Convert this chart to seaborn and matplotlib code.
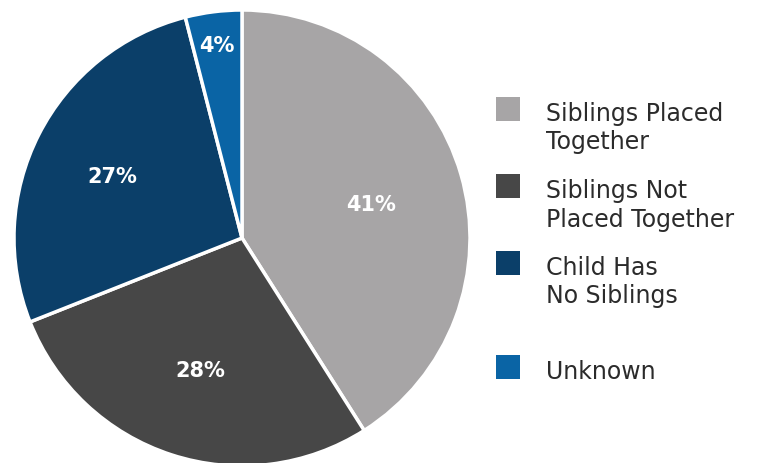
"""
Pie chart of sibling placement status.
"""
import numpy as np
import matplotlib.pyplot as plt
from matplotlib.patches import Rectangle
import seaborn as sns

sns.set_theme(style="white")
plt.rcParams['font.family'] = ['DejaVu Sans']

# Data
categories = ["Siblings Placed\nTogether", "Siblings Not\nPlaced Together",
              "Child Has\nNo Siblings", "Unknown"]
shares = [41, 28, 27, 4]
colors = ["#A7A5A6", "#474747", "#0B3F69", "#0A64A5"]
label_dist = [0.59, 0.59, 0.64, 0.87]

W, H = 757, 463
fig = plt.figure(figsize=(W / 100, H / 100), dpi=100)

# pie axes: center at (242, 238) px, radius 228 px
half = 240
ax = fig.add_axes([(242 - half) / W, (H - 238 - half) / H, 2 * half / W, 2 * half / H])

wedges, _ = ax.pie(shares, colors=colors, startangle=90, counterclock=False,
                   radius=1, wedgeprops=dict(edgecolor="white", linewidth=2.5))
lim = half / 228
ax.set_xlim(-lim, lim)
ax.set_ylim(-lim, lim)
ax.set_aspect("equal")
ax.axis("off")

for w, val, d in zip(wedges, shares, label_dist):
    mid = np.deg2rad((w.theta1 + w.theta2) / 2)
    ax.text(d * np.cos(mid), d * np.sin(mid) - 0.022, f"{val}%", ha="center",
            va="center", color="white", fontsize=15, fontweight="bold")

# legend drawn by hand to match spacing
box_y = [109, 186, 263, 367]
for label, col, y in zip(categories, colors, box_y):
    fig.patches.append(Rectangle((496 / W, (H - y - 12) / H), 24 / W, 24 / H,
                                 transform=fig.transFigure, facecolor=col,
                                 edgecolor="none"))
    for i, line in enumerate(label.split("\n")):
        fig.text(546 / W, (H - (y + 12 + i * 28.5)) / H, line, ha="left", va="baseline",
                 color="#2B2B2B", fontsize=17)

fig.savefig("out.png", dpi=100)
